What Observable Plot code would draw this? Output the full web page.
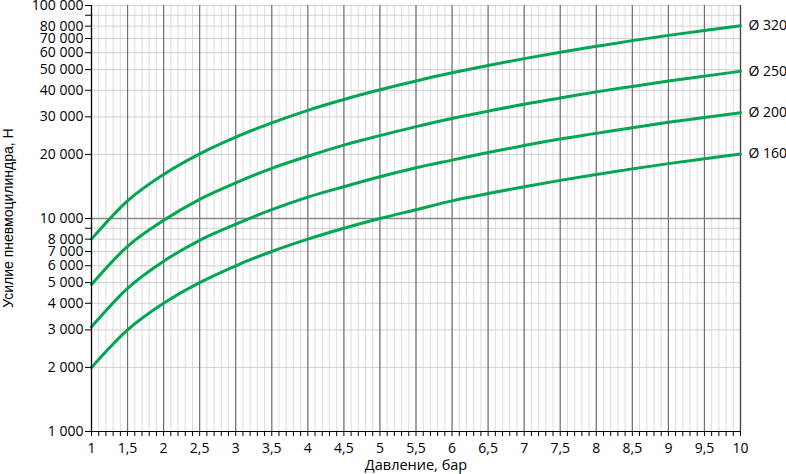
<!DOCTYPE html>
<html>
<head>
<meta charset="utf-8">
<script src="https://cdn.jsdelivr.net/npm/d3@7"></script>
<script src="https://cdn.jsdelivr.net/npm/@observablehq/plot@0.6"></script>
<style>
body { margin: 0; background: #fff; }
</style>
</head>
<body>
<div id="chart"></div>
<script>
const pressure = [1, 1.5, 2, 2.5, 3, 3.5, 4, 4.5, 5, 5.5, 6, 6.5, 7, 7.5, 8, 8.5, 9, 9.5, 10];
const d320 = [8000, 12100, 16100, 20100, 24100, 28100, 32200, 36200, 40200, 44200, 48300, 52300, 56300, 60300, 64300, 68400, 72400, 76400, 80400];
const d250 = [4900, 7400, 9800, 12300, 14700, 17200, 19600, 22100, 24500, 27000, 29500, 31900, 34400, 36800, 39300, 41700, 44200, 46600, 49100];
const d200 = [3100, 4700, 6300, 7900, 9400, 11000, 12600, 14100, 15700, 17300, 18800, 20400, 22000, 23600, 25100, 26700, 28300, 29800, 31400];
const d160 = [2000, 3000, 4000, 5000, 6000, 7000, 8000, 9000, 10000, 11000, 12100, 13100, 14100, 15100, 16100, 17100, 18100, 19100, 20100];
const seriesNames = ["Ø 320", "Ø 250", "Ø 200", "Ø 160"];
const seriesValues = [d320, d250, d200, d160];

const xMajor = [1, 1.5, 2, 2.5, 3, 3.5, 4, 4.5, 5, 5.5, 6, 6.5, 7, 7.5, 8, 8.5, 9, 9.5, 10];
const xMinor = d3.range(10, 101).map(d => d / 10);
const yTicks = [1000, 2000, 3000, 4000, 5000, 6000, 7000, 8000, 9000, 10000, 20000, 30000, 40000, 50000, 60000, 70000, 80000, 90000, 100000];
const yLabels = [1000, 2000, 3000, 4000, 5000, 6000, 7000, 8000, 10000, 20000, 30000, 40000, 50000, 60000, 70000, 80000, 100000];
const yMajorGrid = [10000];
const xTitle = "Давление, бар";
const yTitle = "Усилие пневмоцилиндра, Н";

const data = [];
seriesNames.forEach((name, i) => {
  pressure.forEach((p, j) => data.push({name, p, f: seriesValues[i][j]}));
});
const ends = seriesNames.map((name, i) => ({name, p: pressure[pressure.length - 1], f: seriesValues[i][pressure.length - 1]}));

const fmtNum = d => d3.format(",")(d).replace(/,/g, " ");
const green = "#00a651";
const font = "'Open Sans', sans-serif";

const chart = Plot.plot({
  width: 786,
  height: 474,
  marginLeft: 91,
  marginRight: 46,
  marginTop: 5,
  marginBottom: 43,
  style: {fontFamily: font, color: "#000", background: "#fff"},
  x: {domain: [1, 10], axis: null},
  y: {type: "log", domain: [1000, 100000], axis: null},
  marks: [
    Plot.ruleX(xMinor, {stroke: "#dcdcdc", strokeWidth: 1}),
    Plot.ruleY(yTicks, {stroke: "#d0d0d0", strokeWidth: 1}),
    Plot.ruleX(xMajor, {stroke: "#707070", strokeWidth: 1.2}),
    Plot.ruleY(yMajorGrid, {stroke: "#888", strokeWidth: 1.5}),
    Plot.ruleX([10], {stroke: "#444", strokeWidth: 1.2}),
    Plot.line(data, {x: "p", y: "f", z: "name", stroke: green, strokeWidth: 3, curve: "monotone-x"}),
    Plot.text(ends, {x: "p", y: "f", text: "name", dx: 8, textAnchor: "start", fontSize: 14, fill: "#000", fontFamily: font}),
    Plot.axisX({ticks: xMinor, tickSize: 5, tickFormat: () => "", stroke: "#000", label: null}),
    Plot.axisY({ticks: yTicks, tickSize: 6, tickFormat: () => "", stroke: "#000", label: null}),
    Plot.text(xMajor, {x: d => d, y: 1000, text: d => String(d).replace(".", ","), dy: 17, fontSize: 14, fill: "#000", fontFamily: font}),
    Plot.text(yLabels, {x: 1, y: d => d, text: fmtNum, dx: -8, textAnchor: "end", fontSize: 14, fill: "#000", fontFamily: font}),
    Plot.text([xTitle], {x: 5.5, y: 1000, text: d => d, dy: 34, fontSize: 14.5, fill: "#000", fontFamily: font}),
    Plot.ruleX([1], {stroke: "#000", strokeWidth: 1.2}),
    Plot.ruleY([1000], {stroke: "#000", strokeWidth: 1.2})
  ]
});

const svg = d3.select(chart);
svg.append("text")
  .attr("transform", "translate(13,218) rotate(-90)")
  .attr("text-anchor", "middle")
  .attr("style", "font-family: 'Liberation Sans', Arial, sans-serif; font-size: 14px; fill: #000;")
  .text(yTitle);

document.getElementById("chart").appendChild(chart);
</script>
</body>
</html>
